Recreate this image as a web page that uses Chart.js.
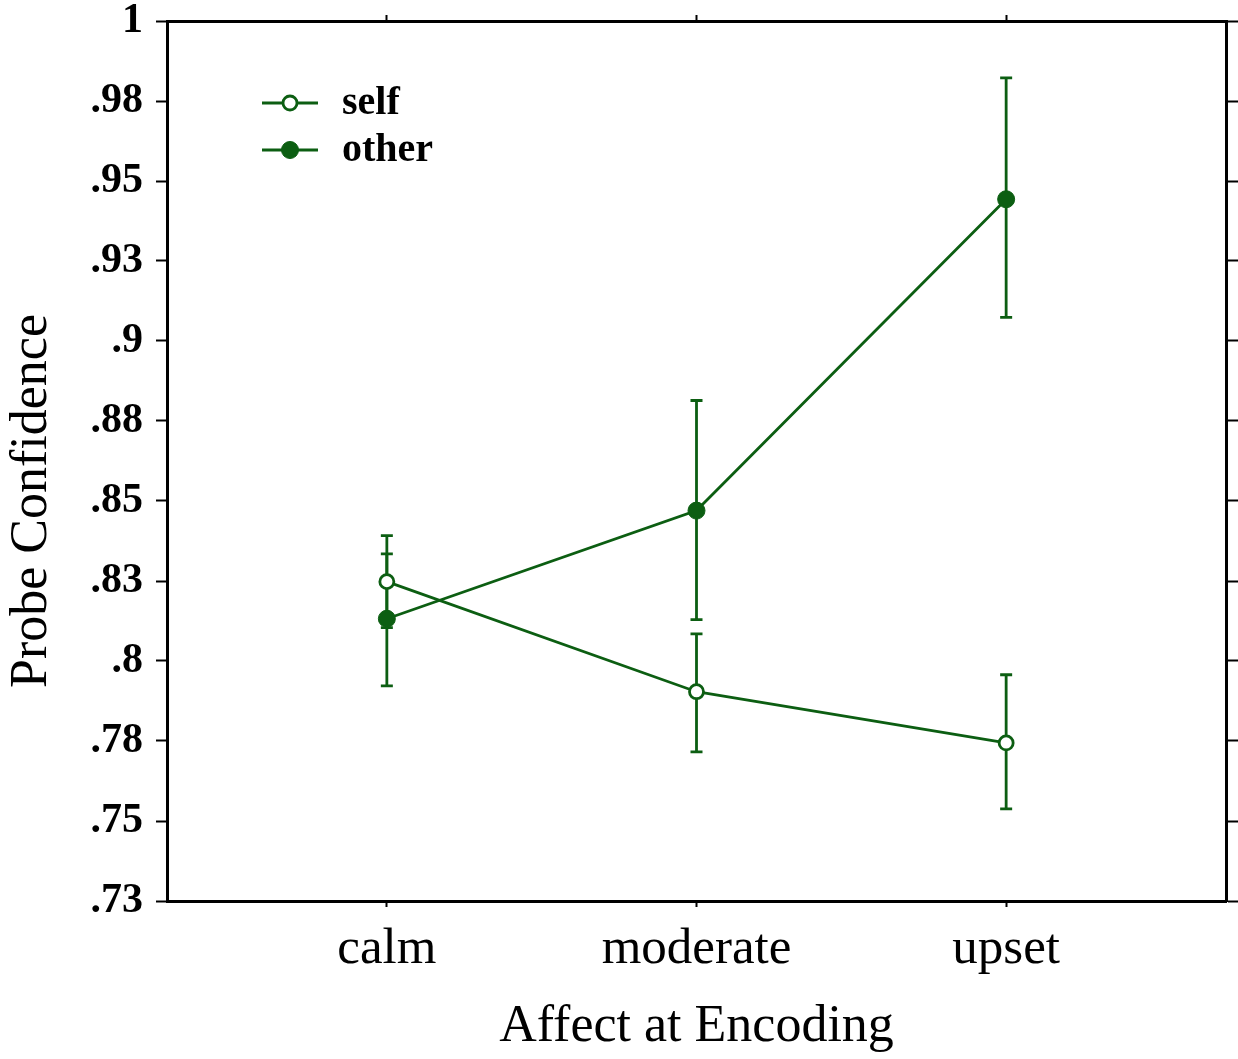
<!DOCTYPE html>
<html>
<head>
<meta charset="utf-8">
<script src="https://cdn.jsdelivr.net/npm/chart.js@4.4.0/dist/chart.umd.min.js"></script>
<style>
  html, body { margin: 0; padding: 0; background: #fff; }
  #wrap { width: 1238px; height: 1059px; }
</style>
</head>
<body>
<div id="wrap"><canvas id="chart"></canvas></div>
<script>
// ===== Data =====
const categories = ["calm", "moderate", "upset"];
const seriesNames = ["self", "other"];

const selfMeans = [0.8248, 0.7904, 0.7744];
const selfLow = [0.8104, 0.7716, 0.7538];
const selfHigh = [0.8392, 0.8085, 0.7957];

const otherMeans = [0.8132, 0.8470, 0.9443];
const otherLow = [0.7922, 0.8129, 0.9074];
const otherHigh = [0.8335, 0.8814, 0.9822];

const yTickValues = [0.725, 0.75, 0.775, 0.8, 0.825, 0.85, 0.875, 0.9, 0.925, 0.95, 0.975, 1];
const yTickLabels = [".73", ".75", ".78", ".8", ".83", ".85", ".88", ".9", ".93", ".95", ".98", "1"];

const yTitle = "Probe Confidence";
const xTitle = "Affect at Encoding";

const GREEN = "#0c5e12";
const SERIF = "'Liberation Serif', 'Times New Roman', serif";

const toPoints = (vals) => vals.map((v, i) => ({ x: i, y: v }));
const errLow = [selfLow, otherLow];
const errHigh = [selfHigh, otherHigh];

// ===== Error bars (drawn under the markers) =====
const errorBars = {
  id: "errorBars",
  beforeDatasetsDraw(chart) {
    const { ctx, scales: { y } } = chart;
    ctx.save();
    ctx.strokeStyle = GREEN;
    ctx.lineWidth = 2.8;
    chart.data.datasets.forEach((ds, d) => {
      const meta = chart.getDatasetMeta(d);
      meta.data.forEach((pt, i) => {
        const yl = y.getPixelForValue(errLow[d][i]);
        const yh = y.getPixelForValue(errHigh[d][i]);
        ctx.beginPath();
        ctx.moveTo(pt.x, yl); ctx.lineTo(pt.x, yh);
        ctx.moveTo(pt.x - 6, yl); ctx.lineTo(pt.x + 6, yl);
        ctx.moveTo(pt.x - 6, yh); ctx.lineTo(pt.x + 6, yh);
        ctx.stroke();
      });
    });
    ctx.restore();
  }
};

// ===== Legend inside the plot + rotated y title =====
const insideLegend = {
  id: "insideLegend",
  afterDatasetsDraw(chart) {
    const { ctx, chartArea } = chart;
    const x0 = chartArea.left + 95;
    ctx.save();
    chart.data.datasets.forEach((ds, d) => {
      const yy = chartArea.top + 82 + d * 47;
      ctx.strokeStyle = GREEN;
      ctx.lineWidth = 2.8;
      ctx.beginPath();
      ctx.moveTo(x0, yy); ctx.lineTo(x0 + 56, yy);
      ctx.stroke();
      ctx.beginPath();
      ctx.arc(x0 + 28, yy, ds.pointRadius, 0, Math.PI * 2);
      ctx.fillStyle = ds.pointBackgroundColor;
      ctx.fill();
      ctx.lineWidth = ds.pointBorderWidth;
      ctx.stroke();
      ctx.fillStyle = "#000";
      ctx.font = "bold 40px " + SERIF;
      ctx.textBaseline = "middle";
      ctx.fillText(ds.label, x0 + 80, yy + 1);
    });
    // y axis title, sits a little below the middle like the original
    ctx.translate(32, chartArea.top + 480);
    ctx.rotate(-Math.PI / 2);
    ctx.font = "52px " + SERIF;
    ctx.textAlign = "center";
    ctx.textBaseline = "middle";
    ctx.fillText(yTitle, 0, 0);
    ctx.restore();
  }
};

const fixedTicks = (vals) => (scale) => { scale.ticks = vals.map(v => ({ value: v })); };
const noPad = (s) => { s.paddingTop = 0; s.paddingBottom = 0; s.paddingLeft = 0; s.paddingRight = 0; };
const xRange = { min: -0.71, max: 2.71 };
const axisBorder = { display: true, color: "#000", width: 3 };

new Chart(document.getElementById("chart"), {
  type: "line",
  data: {
    datasets: [
      {
        label: seriesNames[0],
        data: toPoints(selfMeans),
        borderColor: GREEN,
        borderWidth: 2.8,
        pointRadius: 7,
        pointBorderWidth: 2.8,
        pointBackgroundColor: "#fff",
        pointBorderColor: GREEN
      },
      {
        label: seriesNames[1],
        data: toPoints(otherMeans),
        borderColor: GREEN,
        borderWidth: 2.8,
        pointRadius: 8.5,
        pointBorderWidth: 1,
        pointBackgroundColor: GREEN,
        pointBorderColor: GREEN
      }
    ]
  },
  options: {
    responsive: true,
    maintainAspectRatio: false,
    animation: false,
    layout: { padding: 0 },
    plugins: { legend: { display: false }, tooltip: { enabled: false } },
    scales: {
      x: {
        type: "linear", position: "bottom", ...xRange,
        afterBuildTicks: fixedTicks([0, 1, 2]),
        afterFit: (s) => { s.height = 158; noPad(s); },
        border: axisBorder,
        grid: { drawOnChartArea: false, tickLength: 6, tickColor: "#000", tickWidth: 2 },
        ticks: {
          callback: (v) => categories[v],
          color: "#000", padding: 12, maxRotation: 0,
          font: { family: SERIF, size: 51 }
        },
        title: {
          display: true, text: xTitle, color: "#000",
          padding: { top: 0, bottom: 0 },
          font: { family: SERIF, size: 52 }
        }
      },
      x2: {
        type: "linear", position: "top", ...xRange,
        afterBuildTicks: fixedTicks([0, 1, 2]),
        afterFit: (s) => { s.height = 21; noPad(s); },
        border: axisBorder,
        grid: { drawOnChartArea: false, tickLength: 6, tickColor: "#000", tickWidth: 2 },
        ticks: { display: false }
      },
      y: {
        type: "linear", position: "left", min: 0.725, max: 1,
        afterBuildTicks: fixedTicks(yTickValues),
        afterFit: (s) => { s.width = 167; noPad(s); },
        border: axisBorder,
        grid: { drawOnChartArea: false, tickLength: 11, tickColor: "#000", tickWidth: 2 },
        ticks: {
          callback: (v, i) => yTickLabels[i],
          color: "#000", padding: 13,
          font: { family: SERIF, size: 42, weight: "bold" }
        }
      },
      y2: {
        type: "linear", position: "right", min: 0.725, max: 1,
        afterBuildTicks: fixedTicks(yTickValues),
        afterFit: (s) => { s.width = 12; noPad(s); },
        border: axisBorder,
        grid: { drawOnChartArea: false, tickLength: 12, tickColor: "#000", tickWidth: 2 },
        ticks: { display: false }
      }
    }
  },
  plugins: [errorBars, insideLegend]
});
</script>
</body>
</html>
